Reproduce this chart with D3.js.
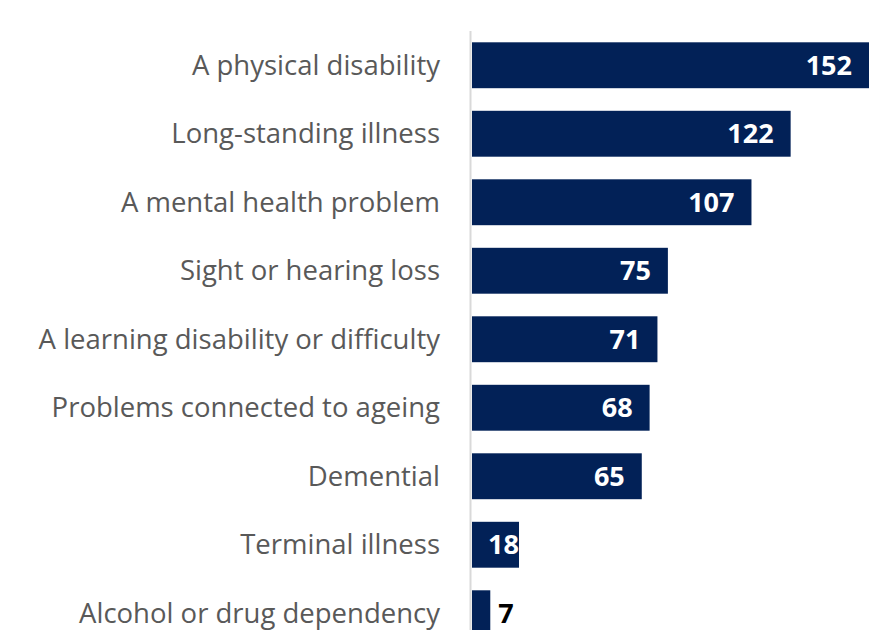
<!DOCTYPE html>
<html>
<head>
<meta charset="utf-8">
<script src="https://cdn.jsdelivr.net/npm/d3@7/dist/d3.min.js"></script>
<style>
  html, body { margin: 0; padding: 0; background: #fff; }
  svg { display: block; }
</style>
</head>
<body>
<svg id="chart" width="882" height="630"></svg>
<script>
// Number of people reporting each condition
const categories = [
  "A physical disability",
  "Long-standing illness",
  "A mental health problem",
  "Sight or hearing loss",
  "A learning disability or difficulty",
  "Problems connected to ageing",
  "Demential",
  "Terminal illness",
  "Alcohol or drug dependency"
];
const values = [152, 122, 107, 75, 71, 68, 65, 18, 7];

const svg = d3.select("#chart");
const x0 = 472;

const x = d3.scaleLinear().domain([0, 152]).range([x0, 869]);
const y = d3.scaleBand()
  .domain(categories)
  .range([31, 31 + 68.5 * categories.length])
  .paddingInner(0.33)
  .paddingOuter(0.165);

// Vertical category axis line
svg.append("line")
  .attr("x1", 470.5).attr("x2", 470.5)
  .attr("y1", 31).attr("y2", 630)
  .attr("stroke", "#d9d9d9").attr("stroke-width", 2);

// Bars
svg.selectAll("rect.bar")
  .data(values)
  .join("rect")
  .attr("class", "bar")
  .attr("x", x0)
  .attr("y", (d, i) => y(categories[i]))
  .attr("width", d => x(d) - x0)
  .attr("height", y.bandwidth())
  .attr("fill", "#022157");

// Category labels
svg.selectAll("text.cat")
  .data(categories)
  .join("text")
  .attr("class", "cat")
  .attr("x", 440)
  .attr("y", d => y(d) + y.bandwidth() / 2)
  .attr("dy", "0.35em")
  .attr("text-anchor", "end")
  .attr("font-family", "'Open Sans', sans-serif")
  .attr("font-size", 27.5)
  .attr("fill", "#595959")
  .text(d => d);

// Value labels: inside the bar end when it fits, otherwise just after it
svg.selectAll("text.val")
  .data(values)
  .join("text")
  .attr("class", "val")
  .attr("x", d => d >= 20 ? x(d) - 17 : (d >= 10 ? x0 + 16 : x(d) + 8))
  .attr("y", (d, i) => y(categories[i]) + y.bandwidth() / 2)
  .attr("dy", "0.36em")
  .attr("text-anchor", d => d >= 20 ? "end" : "start")
  .attr("font-family", "'Open Sans', sans-serif")
  .attr("font-weight", "bold")
  .attr("font-size", 27)
  .attr("fill", d => d >= 10 ? "#ffffff" : "#000000")
  .text(d => d);
</script>
</body>
</html>
